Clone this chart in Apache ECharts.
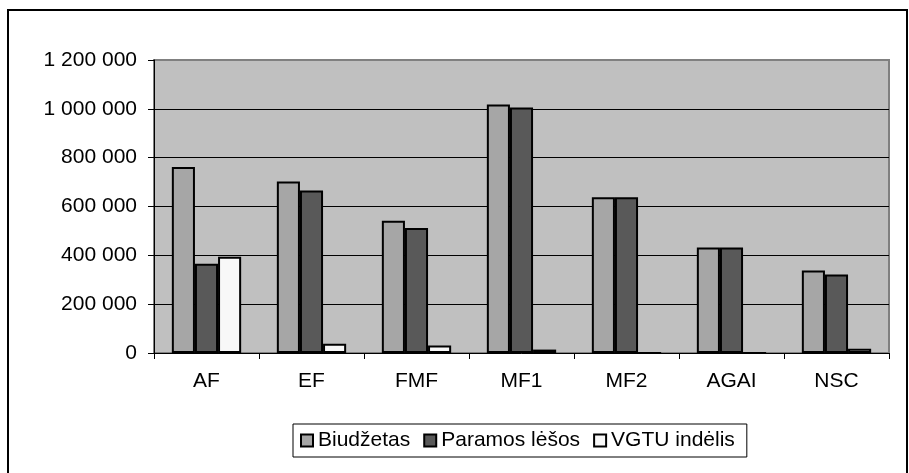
<!DOCTYPE html>
<html>
<head>
<meta charset="utf-8">
<script src="https://cdn.jsdelivr.net/npm/echarts@6/dist/echarts.min.js"></script>
<style>
html,body{margin:0;padding:0;background:#fff;}
#chart{width:909px;height:473px;}
</style>
</head>
<body>
<div id="chart"></div>
<script>
var categories = ['AF', 'EF', 'FMF', 'MF1', 'MF2', 'AGAI', 'NSC'];
var seriesNames = ['Biudžetas', 'Paramos lėšos', 'VGTU indėlis'];
var biudzetas = [762000, 702000, 542000, 1018000, 638000, 432000, 338000];
var paramos = [366000, 666000, 512000, 1005000, 638000, 432000, 322000];
var vgtu = [394000, 38000, 31000, 14000, 0, 0, 17000];
var yTicks = [0, 200000, 400000, 600000, 800000, 1000000, 1200000];

var FONT = '"Liberation Sans", Arial, sans-serif';
var chart = echarts.init(document.getElementById('chart'), null, {renderer: 'canvas'});

function fmt(v) {
  return String(v).replace(/\B(?=(\d{3})+(?!\d))/g, ' ');
}

function barSeries(name, data, color) {
  return {
    name: name,
    type: 'bar',
    data: data,
    barGap: '0%',
    barCategoryGap: '34%',
    itemStyle: {color: color, borderColor: '#000', borderWidth: 2},
    emphasis: {disabled: true},
    animation: false
  };
}

chart.setOption({
  animation: false,
  backgroundColor: '#fff',
  textStyle: {fontFamily: FONT},
  graphic: [{
    type: 'rect',
    shape: {x: 8, y: 10, width: 899, height: 480},
    style: {fill: 'none', stroke: '#000', lineWidth: 2},
    silent: true
  }],
  grid: {
    left: 154, top: 60, right: 20, bottom: 120,
    show: true,
    backgroundColor: '#c0c0c0',
    borderColor: '#808080',
    borderWidth: 2,
    containLabel: false
  },
  legend: {
    data: seriesNames,
    left: 293,
    top: 424,
    padding: [6, 12, 6, 7],
    itemGap: 13,
    itemWidth: 12,
    itemHeight: 12,
    icon: 'rect',
    borderColor: '#000',
    borderWidth: 1,
    backgroundColor: '#fff',
    textStyle: {fontFamily: FONT, fontSize: 21, color: '#000'}
  },
  xAxis: {
    type: 'category',
    data: categories,
    axisLine: {show: true, lineStyle: {color: '#000', width: 1}},
    axisTick: {show: true, alignWithLabel: false, length: 6, lineStyle: {color: '#000'}},
    axisLabel: {fontFamily: FONT, fontSize: 21, color: '#000', margin: 18},
    splitLine: {show: false}
  },
  yAxis: {
    type: 'value',
    min: yTicks[0],
    max: yTicks[yTicks.length - 1],
    interval: yTicks[1] - yTicks[0],
    axisLine: {show: true, lineStyle: {color: '#000', width: 1}},
    axisTick: {show: true, length: 6, lineStyle: {color: '#000'}},
    axisLabel: {fontFamily: FONT, fontSize: 21, color: '#000', margin: 17, formatter: fmt},
    splitLine: {show: true, showMaxLine: false, showMinLine: false, lineStyle: {color: '#000', width: 1}}
  },
  series: [
    barSeries(seriesNames[0], biudzetas, '#a6a6a6'),
    barSeries(seriesNames[1], paramos, '#595959'),
    barSeries(seriesNames[2], vgtu, '#f8f8f8')
  ]
});
</script>
</body>
</html>
